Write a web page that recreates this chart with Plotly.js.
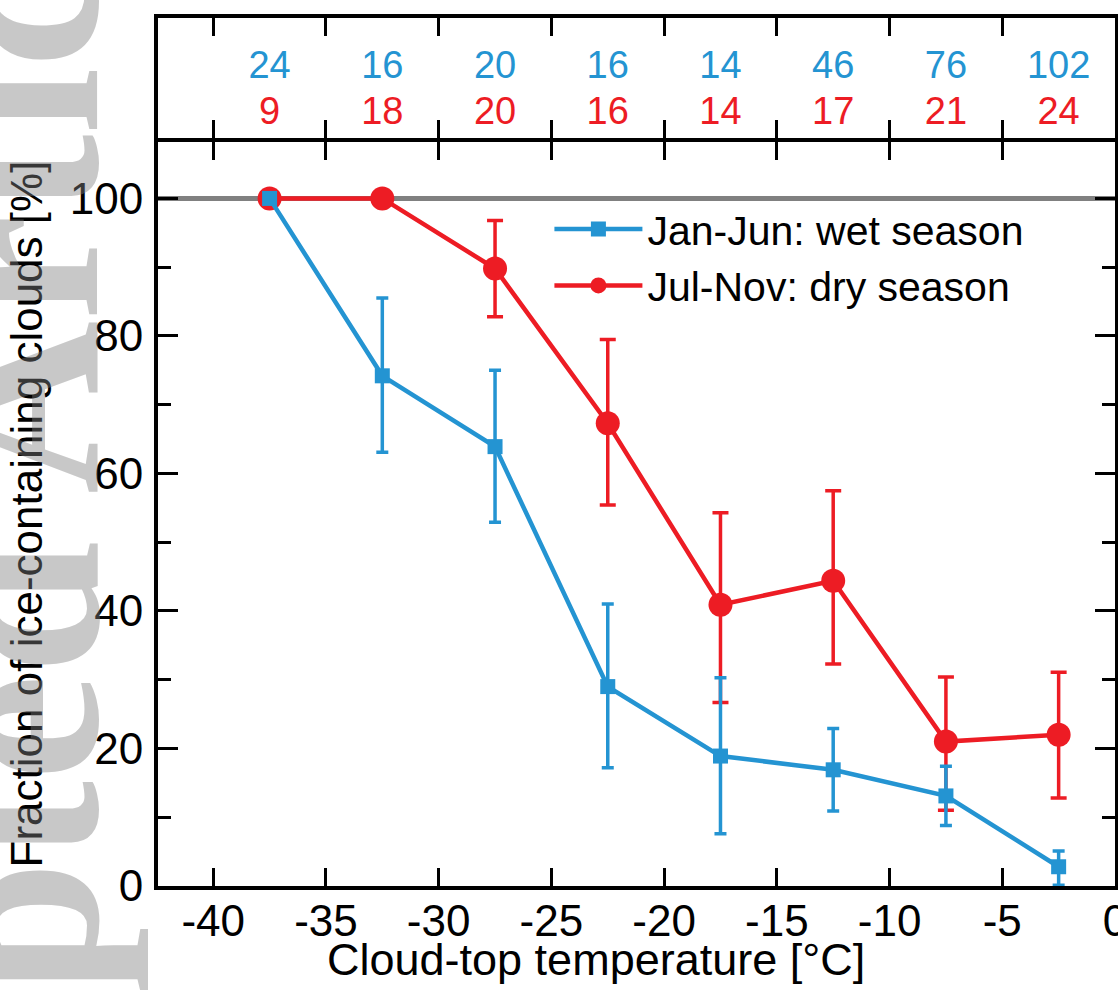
<!DOCTYPE html>
<html>
<head>
<meta charset="utf-8">
<script src="https://cdn.plot.ly/plotly-3.0.1.min.js"></script>
<style>html,body{margin:0;padding:0;background:#fff;}#chart{width:1118px;height:990px;}</style>
</head>
<body>
<div id="chart"></div>
<script>
// Cloud-top temperature bin centres [°C]
var temps = [-37.5, -32.5, -27.5, -22.5, -17.5, -12.5, -7.5, -2.5];

// Jan-Jun: wet season
var wetFrac  = [100, 74.2, 63.9, 29.0, 18.9, 16.9, 13.1, 2.8];
var wetUpper = [100, 85.5, 75.0, 41.0, 30.3, 22.9, 17.4, 5.1];
var wetLower = [100, 63.1, 52.9, 17.2, 7.6, 10.9, 8.8, 0.1];
var wetCounts = [24, 16, 20, 16, 14, 46, 76, 102];

// Jul-Nov: dry season
var dryFrac  = [100, 100, 89.8, 67.3, 40.9, 44.4, 21.0, 22.0];
var dryUpper = [100, 100, 96.8, 79.5, 54.3, 57.5, 30.4, 31.1];
var dryLower = [100, 100, 82.8, 55.4, 26.7, 32.3, 11.0, 12.8];
var dryCounts = [9, 18, 20, 16, 14, 17, 21, 24];

var xTickVals = [-40, -35, -30, -25, -20, -15, -10, -5, 0];
var xTickText = ['-40', '-35', '-30', '-25', '-20', '-15', '-10', '-5', '0'];

var BLUE = '#2494d2';
var RED = '#ed1c24';
var FONT = 'Liberation Sans, Arial, Helvetica, sans-serif';

function diff(a, b) { return a.map(function (v, i) { return +(v - b[i]).toFixed(2); }); }

var dryTrace = {
  x: temps, y: dryFrac, type: 'scatter', mode: 'lines+markers',
  name: 'Jul-Nov: dry season', legendrank: 2,
  line: {color: RED, width: 4.5},
  marker: {symbol: 'circle', size: 24, color: RED},
  error_y: {type: 'data', symmetric: false, array: diff(dryUpper, dryFrac), arrayminus: diff(dryFrac, dryLower),
            color: RED, thickness: 3.5, width: 8},
  xaxis: 'x', yaxis: 'y'
};
var wetTrace = {
  x: temps, y: wetFrac, type: 'scatter', mode: 'lines+markers',
  name: 'Jan-Jun: wet season', legendrank: 1,
  line: {color: BLUE, width: 4.5},
  marker: {symbol: 'square', size: 15, color: BLUE},
  error_y: {type: 'data', symmetric: false, array: diff(wetUpper, wetFrac), arrayminus: diff(wetFrac, wetLower),
            color: BLUE, thickness: 3.5, width: 6},
  xaxis: 'x', yaxis: 'y'
};
var wetCountTrace = {
  x: temps, y: temps.map(function () { return 0.577; }), type: 'scatter', mode: 'text',
  text: wetCounts.map(String), textfont: {family: FONT, size: 38, color: BLUE},
  showlegend: false, hoverinfo: 'skip', xaxis: 'x2', yaxis: 'y2'
};
var dryCountTrace = {
  x: temps, y: temps.map(function () { return 0.197; }), type: 'scatter', mode: 'text',
  text: dryCounts.map(String), textfont: {family: FONT, size: 38, color: RED},
  showlegend: false, hoverinfo: 'skip', xaxis: 'x2', yaxis: 'y2'
};

var lowTop = 0.8571, upBottom = 0.8618;
var layout = {
  width: 1118, height: 990,
  margin: {l: 158, r: 3, t: 18, b: 104, pad: 0},
  paper_bgcolor: '#ffffff', plot_bgcolor: '#ffffff',
  font: {family: FONT, color: '#000000', size: 40},
  showlegend: true,
  legend: {x: 0.409, y: 0.795, xanchor: 'left', yanchor: 'top', bgcolor: 'rgba(0,0,0,0)', borderwidth: 0,
           font: {family: FONT, size: 41, color: '#000'}, itemwidth: 88, tracegroupgap: 0},
  xaxis: {
    domain: [0, 1], anchor: 'y', range: [-42.45, 0],
    tickmode: 'array', tickvals: xTickVals, ticktext: xTickText,
    ticks: 'inside', ticklen: 18, tickwidth: 3, tickcolor: '#000',
    showline: true, linewidth: 4, linecolor: '#000', mirror: 'ticks',
    showgrid: false, zeroline: false, ticklabelstandoff: -7, ticklabeloverflow: 'allow',
    tickfont: {family: FONT, size: 44, color: '#000'}
  },
  yaxis: {
    domain: [0, lowTop], anchor: 'x', range: [0, 108.2],
    tickmode: 'linear', tick0: 0, dtick: 20,
    ticks: 'inside', ticklen: 20, tickwidth: 3, tickcolor: '#000',
    minor: {dtick: 10, tick0: 0, ticks: 'inside', ticklen: 13, tickwidth: 3, tickcolor: '#000', showgrid: false},
    showline: true, linewidth: 4, linecolor: '#000', mirror: 'ticks',
    showgrid: false, zeroline: false, ticklabelstandoff: 2,
    tickfont: {family: FONT, size: 44, color: '#000'},
    title: {text: 'Fraction of ice-containing clouds [%]', font: {family: FONT, size: 44, color: '#000'}, standoff: 14}
  },
  xaxis2: {
    domain: [0, 1], anchor: 'y2', matches: 'x',
    tickmode: 'array', tickvals: xTickVals,
    ticks: 'inside', ticklen: 18, tickwidth: 3, tickcolor: '#000',
    showticklabels: false, showline: true, linewidth: 4, linecolor: '#000', mirror: 'ticks',
    showgrid: false, zeroline: false
  },
  yaxis2: {
    domain: [upBottom, 1], anchor: 'x2', range: [0, 1],
    ticks: '', showticklabels: false, showline: true, linewidth: 4, linecolor: '#000', mirror: true,
    showgrid: false, zeroline: false
  },
  shapes: [{
    type: 'line', xref: 'paper', yref: 'y', x0: 0, x1: 1, y0: 100, y1: 100,
    line: {color: '#808080', width: 5}, layer: 'below'
  }],
  annotations: [{
    text: 'Accepted Article', xref: 'paper', yref: 'paper', x: -0.149, y: 0.286,
    xanchor: 'center', yanchor: 'middle', showarrow: false, textangle: -90,
    font: {family: 'Liberation Serif, Times New Roman, serif', size: 240, weight: 'bold', color: 'rgba(128,128,128,0.43)'}
  }, {
    text: 'Cloud-top temperature [°C]', xref: 'paper', yref: 'paper', x: 0.4577, y: -0.085,
    xanchor: 'center', yanchor: 'middle', showarrow: false,
    font: {family: FONT, size: 45, color: '#000'}
  }]
};

Plotly.newPlot('chart', [dryTrace, wetTrace, wetCountTrace, dryCountTrace], layout, {displayModeBar: false, staticPlot: true});
</script>
</body>
</html>
